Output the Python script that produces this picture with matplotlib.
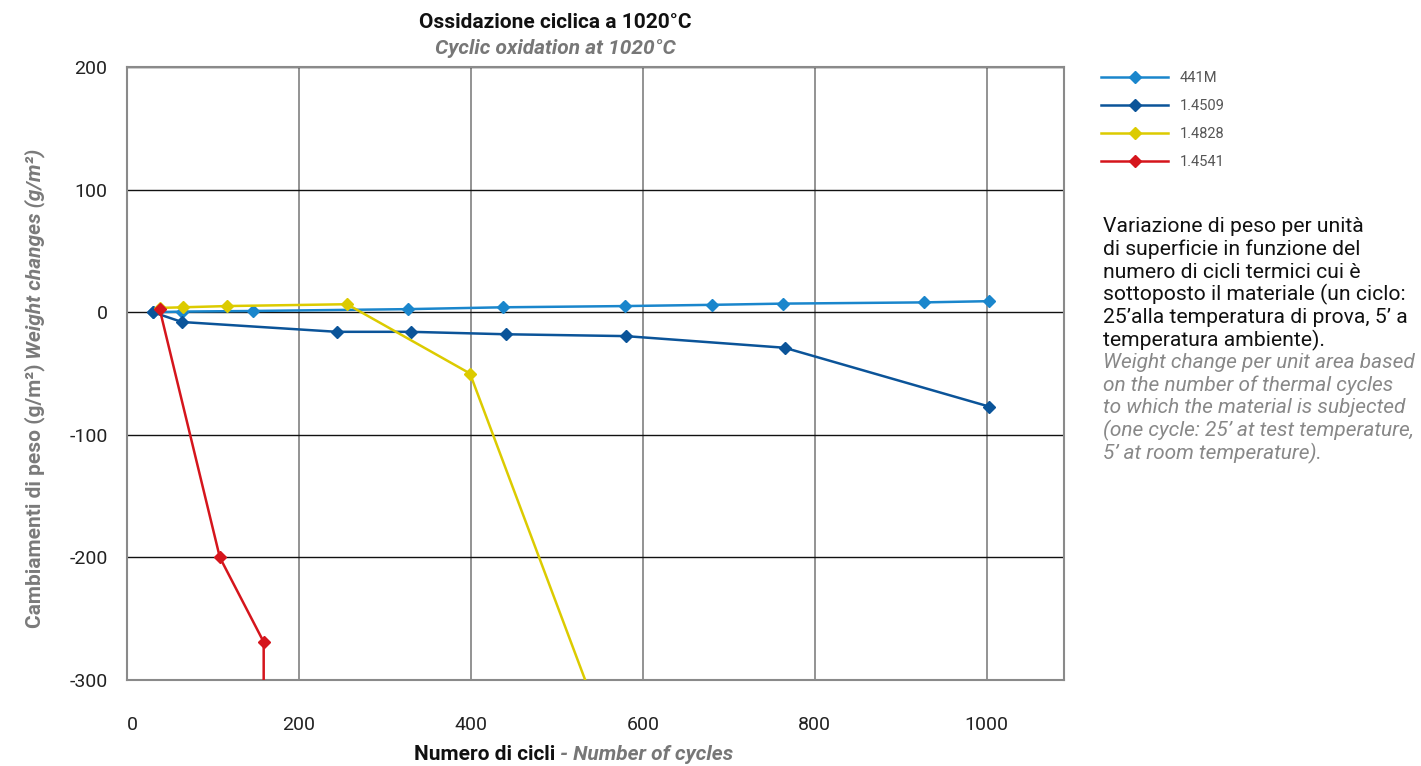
import matplotlib.pyplot as plt
import numpy as np

plt.rcParams['font.family'] = ['Roboto', 'DejaVu Sans']

# 441M
x_441m = [30, 64, 147, 327, 437, 579, 680, 763, 927, 1003]
y_441m = [0, 0.5, 1, 2.5, 4, 5, 6, 7, 8, 9]
# 1.4509
x_4509 = [30, 64, 244, 330, 441, 580, 765, 1003]
y_4509 = [0, -8, -16, -16, -18, -19.5, -29, -77]
# 1.4828
x_4828 = [38, 65, 116, 256, 399, 600]
y_4828 = [3.5, 4, 5, 6.5, -50, -425]
# 1.4541
x_4541 = [38, 108, 159, 159]
y_4541 = [2.5, -200, -269, -400]

labels = ['441M', '1.4509', '1.4828', '1.4541']
colors = ['#1a86cc', '#0b5499', '#dccb00', '#d5151c']

W, H = 1421, 766
fig = plt.figure(figsize=(W / 100, H / 100), dpi=100)
ax = fig.add_axes([127 / W, 1 - 680 / H, (1064 - 127) / W, (680 - 67) / H])

series = [(x_441m, y_441m), (x_4509, y_4509), (x_4828, y_4828), (x_4541, y_4541)]
for (xs, ys), lab, c in zip(series, labels, colors):
    ax.plot(xs, ys, color=c, lw=1.8, marker='D', ms=6.5, label=lab, zorder=3)

ax.set_xlim(0, 1090)
ax.set_ylim(-300, 200)
ax.set_xticks([0, 200, 400, 600, 800, 1000])
ax.set_yticks([-300, -200, -100, 0, 100, 200])
ax.set_xticklabels(['0', '200', '400', '600', '800', '1000'])
ax.set_yticklabels(['-300', '-200', '-100', '0', '100', '200'])
ax.tick_params(axis='both', length=0, labelsize=14, colors='#222222')
ax.tick_params(axis='x', pad=26)
ax.tick_params(axis='y', pad=14)
ax.get_xticklabels()[0].set_horizontalalignment('left')
ax.get_xticklabels()[0].set_x(3)
ax.xaxis.grid(True, color='#808080', lw=1.2)
ax.yaxis.grid(True, color='#111111', lw=1.0)
ax.set_axisbelow(True)
for s in ax.spines.values():
    s.set_color('#8a8a8a')
    s.set_linewidth(1.5)

# title
fig.text(555 / W, 1 - 22 / H, 'Ossidazione ciclica a 1020°C', ha='center', va='center',
         fontsize=15, fontweight='bold', color='#111111')
fig.text(555 / W, 1 - 48 / H, 'Cyclic oxidation at 1020°C', ha='center', va='center',
         fontsize=15, fontweight='bold', style='italic', color='#777777')

# x label
fig.text(555 / W, 1 - 755 / H, 'Numero di cicli', ha='right', va='center',
         fontsize=15, fontweight='bold', color='#111111')
fig.text(555 / W, 1 - 755 / H, ' - Number of cycles', ha='left', va='center',
         fontsize=15, fontweight='bold', style='italic', color='#777777')

# y label
y1 = ax.annotate('Cambiamenti di peso (g/m²)', xy=(35 / W, 1 - 628 / H), xycoords='figure fraction',
                 rotation=90, ha='center', va='bottom', fontsize=15, fontweight='bold', color='#7a7a7a')
ax.annotate(' Weight changes (g/m²)', xy=(0.5, 1.0), xycoords=y1, rotation=90, ha='center',
            va='bottom', fontsize=15, fontweight='bold', style='italic', color='#7a7a7a')

# legend
fig.legend(loc='upper left', bbox_to_anchor=(1088 / W, 1 - 58 / H), frameon=False,
           handlelength=4.6, fontsize=10.5, labelspacing=0.95, labelcolor='#555555')

# side text
it_lines = ['Variazione di peso per unità', 'di superficie in funzione del',
            'numero di cicli termici cui è', 'sottoposto il materiale (un ciclo:',
            '25’alla temperatura di prova, 5’ a', 'temperatura ambiente).']
en_lines = ['Weight change per unit area based', 'on the number of thermal cycles',
            'to which the material is subjected', '(one cycle: 25’ at test temperature,',
            '5’ at room temperature).']
y0 = 227
for i, line in enumerate(it_lines):
    fig.text(1103 / W, 1 - (y0 + i * 22.6) / H, line, ha='left', va='center',
             fontsize=15.2, color='#111111')
for i, line in enumerate(en_lines):
    fig.text(1103 / W, 1 - (y0 + (i + 6) * 22.6) / H, line, ha='left', va='center',
             fontsize=15.0, style='italic', color='#888888')

fig.savefig('out.png', dpi=100)
